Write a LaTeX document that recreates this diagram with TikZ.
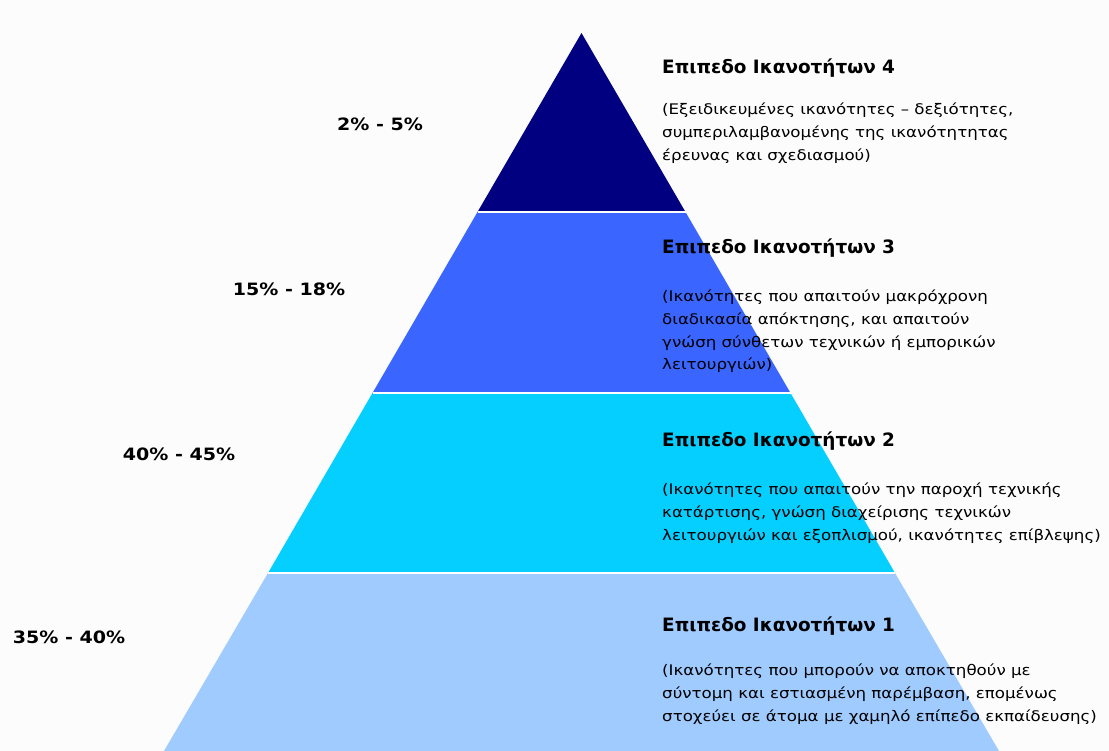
\documentclass[tikz,border=0pt]{standalone}
\usepackage{fontspec}
\setmainfont{DejaVu Sans}
\newfontfamily\descfont[FakeStretch=1.14]{DejaVu Sans}
\newfontfamily\pctfont[FakeStretch=1.12]{DejaVu Sans}
\definecolor{bgc}{HTML}{FBFCFB}
\definecolor{lvfour}{HTML}{000080}
\definecolor{lvthree}{HTML}{3A66FF}
\definecolor{lvtwo}{HTML}{05CFFF}
\definecolor{lvone}{HTML}{A0CBFF}
\begin{document}
\begin{tikzpicture}[x=1pt,y=-1pt,
  title/.style={anchor=west,inner sep=0pt,font=\fontsize{18.4}{20}\selectfont\bfseries},
  desc/.style={anchor=north west,inner sep=0pt,align=left,font=\descfont\fontsize{14.6}{22.6}\selectfont},
  pct/.style={inner sep=0pt,font=\pctfont\fontsize{17}{19}\selectfont\bfseries},
  sep/.style={draw=white,line width=2pt}]
\fill[bgc] (0,0) rectangle (1109,751);
\useasboundingbox (0,0) rectangle (1109,751);
% pyramid bands
\coordinate (apex) at (581.5,33);
\coordinate (l4) at (477.5,212); \coordinate (r4) at (685.5,212);
\coordinate (l3) at (372.5,393); \coordinate (r3) at (790.5,393);
\coordinate (l2) at (268,573);   \coordinate (r2) at (895,573);
\coordinate (l1) at (164,751);   \coordinate (r1) at (999,751);
\fill[lvfour] (apex) -- (r4) -- (l4) -- cycle;
\fill[lvthree] (l4) -- (r4) -- (r3) -- (l3) -- cycle;
\fill[lvtwo] (l3) -- (r3) -- (r2) -- (l2) -- cycle;
\fill[lvone] (l2) -- (r2) -- (r1) -- (l1) -- cycle;
\draw[sep] (l4) -- (r4);
\draw[sep] (l3) -- (r3);
\draw[sep] (l2) -- (r2);
% level 4
\node[title] (t4) at (662,68) {Επιπεδο Ικανοτήτων 4};
\node[desc] (d4) at (662,103) {(Εξειδικευμένες ικανότητες – δεξιότητες,\\συμπεριλαμβανομένης της ικανότητητας\\έρευνας και σχεδιασμού)};
% level 3
\node[title] (t3) at (662,248) {Επιπεδο Ικανοτήτων 3};
\node[desc] (d3) at (662,290) {(Ικανότητες που απαιτούν μακρόχρονη\\διαδικασία απόκτησης, και απαιτούν\\γνώση σύνθετων τεχνικών ή εμπορικών\\λειτουργιών)};
% level 2
\node[title] (t2) at (662,441) {Επιπεδο Ικανοτήτων 2};
\node[desc] (d2) at (662,483) {(Ικανότητες που απαιτούν την παροχή τεχνικής\\κατάρτισης, γνώση διαχείρισης τεχνικών\\λειτουργιών και εξοπλισμού, ικανότητες επίβλεψης)};
% level 1
\node[title] (t1) at (662,626) {Επιπεδο Ικανοτήτων 1};
\node[desc] (d1) at (662,664) {(Ικανότητες που μπορούν να αποκτηθούν με\\σύντομη και εστιασμένη παρέμβαση, επομένως\\στοχεύει σε άτομα με χαμηλό επίπεδο εκπαίδευσης)};
% percentages
\node[pct] (p4) at (380,124) {2\% - 5\%};
\node[pct] (p3) at (289,289) {15\% - 18\%};
\node[pct] (p2) at (179,454) {40\% - 45\%};
\node[pct] (p1) at (69,637) {35\% - 40\%};
\end{tikzpicture}
\end{document}
